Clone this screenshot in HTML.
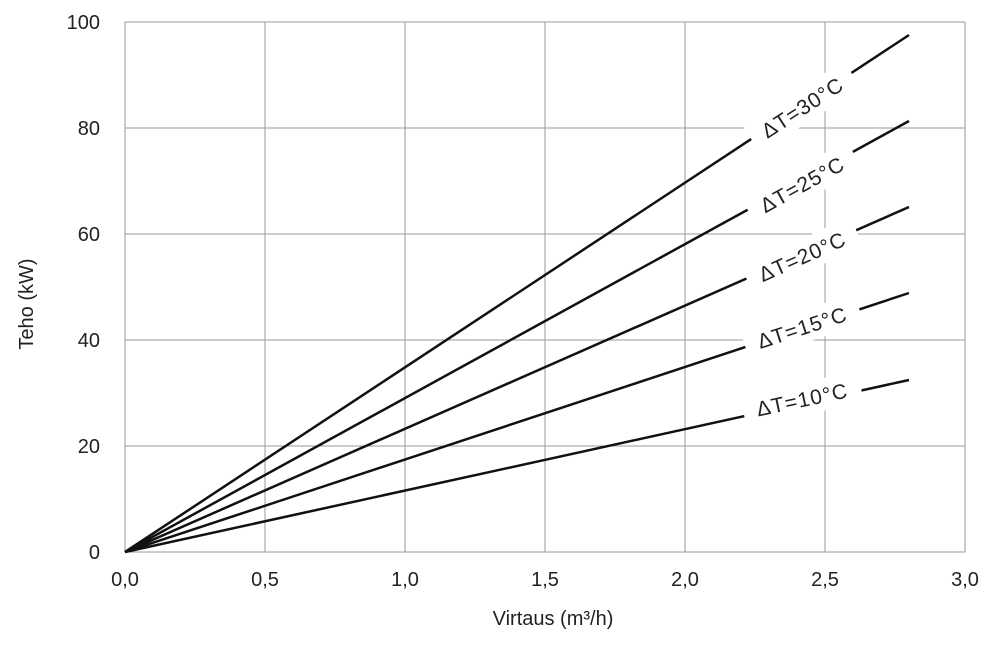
<!DOCTYPE html>
<html><head><meta charset="utf-8"><style>body{margin:0;background:#fff}</style></head><body>
<svg width="1000" height="653" xmlns="http://www.w3.org/2000/svg" font-family="Liberation Sans, DejaVu Sans, sans-serif" fill="#222">
<g stroke="#999" stroke-width="1">
<line x1="125" y1="22" x2="965" y2="22"/><line x1="125" y1="128" x2="965" y2="128"/><line x1="125" y1="234" x2="965" y2="234"/><line x1="125" y1="340" x2="965" y2="340"/><line x1="125" y1="446" x2="965" y2="446"/><line x1="125" y1="552" x2="965" y2="552"/>
<line x1="125" y1="22" x2="125" y2="552"/><line x1="265" y1="22" x2="265" y2="552"/><line x1="405" y1="22" x2="405" y2="552"/><line x1="545" y1="22" x2="545" y2="552"/><line x1="685" y1="22" x2="685" y2="552"/><line x1="825" y1="22" x2="825" y2="552"/><line x1="965" y1="22" x2="965" y2="552"/>
</g>
<g stroke="#111" stroke-width="2.5">
<line x1="125" y1="552" x2="909" y2="35"/>
<line x1="125" y1="552" x2="909" y2="121"/>
<line x1="125" y1="552" x2="909" y2="207"/>
<line x1="125" y1="552" x2="909" y2="293"/>
<line x1="125" y1="552" x2="909" y2="380"/>
</g>
<g font-size="21" text-anchor="middle" letter-spacing="1">
<g transform="translate(802,107) rotate(-33)"><rect x="-60" y="-16" width="120" height="32" fill="#fff"/><text y="8">ΔT=30°C</text></g>
<g transform="translate(802,184) rotate(-29)"><rect x="-60" y="-16" width="120" height="32" fill="#fff"/><text y="8">ΔT=25°C</text></g>
<g transform="translate(802,256) rotate(-24)"><rect x="-60" y="-16" width="120" height="32" fill="#fff"/><text y="8">ΔT=20°C</text></g>
<g transform="translate(802,327) rotate(-18)"><rect x="-60" y="-16" width="120" height="32" fill="#fff"/><text y="8">ΔT=15°C</text></g>
<g transform="translate(802,399) rotate(-12)"><rect x="-60" y="-16" width="120" height="32" fill="#fff"/><text y="8">ΔT=10°C</text></g>
</g>
<g font-size="20" text-anchor="end">
<text x="100" y="29">100</text><text x="100" y="135">80</text><text x="100" y="241">60</text><text x="100" y="347">40</text><text x="100" y="453">20</text><text x="100" y="559">0</text>
</g>
<g font-size="20" text-anchor="middle">
<text x="125" y="586">0,0</text><text x="265" y="586">0,5</text><text x="405" y="586">1,0</text><text x="545" y="586">1,5</text><text x="685" y="586">2,0</text><text x="825" y="586">2,5</text><text x="965" y="586">3,0</text>
<text x="553" y="625">Virtaus (m³/h)</text>
<text transform="translate(33,304) rotate(-90)">Teho (kW)</text>
</g>
</svg>
</body></html>
